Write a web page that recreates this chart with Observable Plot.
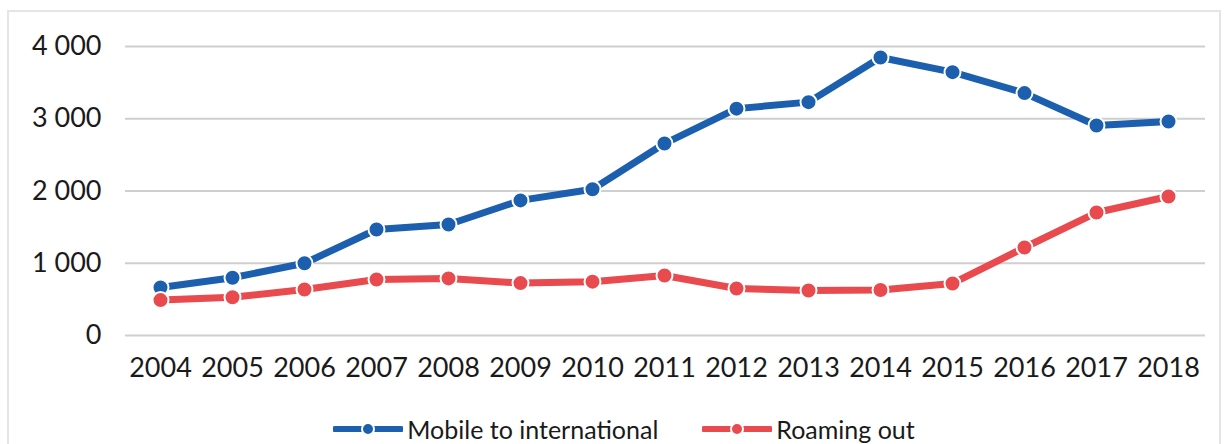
<!DOCTYPE html>
<html>
<head>
<meta charset="utf-8">
<script src="https://cdn.jsdelivr.net/npm/d3@7"></script>
<script src="https://cdn.jsdelivr.net/npm/@observablehq/plot@0.6"></script>
<style>
  html, body { margin: 0; padding: 0; background: #fff; }
  body { width: 1228px; height: 444px; position: relative; overflow: hidden; font-family: Lato, "Open Sans", sans-serif; }
  #frame { position: absolute; left: 7px; top: 10px; width: 1214px; height: 450px; border: 2px solid #e4e6e6; box-sizing: border-box; }
  #chart { position: absolute; left: 0; top: 0; }
  #legend { position: absolute; left: 0; top: 414px; width: 1228px; display: flex; justify-content: center; gap: 44px; font-size: 25px; color: #1a1a1a; padding-left: 20px; box-sizing: border-box; }
  .item { display: flex; align-items: center; gap: 4px; }
</style>
</head>
<body>
<div id="frame"></div>
<div id="chart"></div>
<div id="legend"></div>
<script>
const years = [2004, 2005, 2006, 2007, 2008, 2009, 2010, 2011, 2012, 2013, 2014, 2015, 2016, 2017, 2018];
const mobileToInternational = [665, 800, 1000, 1467, 1536, 1870, 2025, 2657, 3140, 3230, 3848, 3645, 3355, 2906, 2962];
const roamingOut = [490, 530, 637, 775, 790, 725, 745, 830, 650, 623, 630, 720, 1218, 1702, 1924];
const seriesNames = ["Mobile to international", "Roaming out"];
const seriesColors = ["#1b5fae", "#e84a4d"];
const yTicks = [0, 1000, 2000, 3000, 4000];

const data = [];
years.forEach((y, i) => {
  data.push({year: y, value: mobileToInternational[i], series: seriesNames[0]});
  data.push({year: y, value: roamingOut[i], series: seriesNames[1]});
});

const fmt = d => d3.format(",")(d).replace(/,/g, " ");

const plot = Plot.plot({
  width: 1228,
  height: 395,
  marginTop: 46,
  marginBottom: 60,
  marginLeft: 125,
  marginRight: 23,
  style: {fontFamily: "Lato, 'Open Sans', sans-serif", fontSize: "27px", color: "#1a1a1a", background: "transparent"},
  x: {domain: [2004, 2018], insetLeft: 35, insetRight: 37, ticks: years, tickFormat: d => String(d), tickSize: 0, tickPadding: 24, label: null},
  y: {domain: [0, 4000], ticks: yTicks, tickFormat: fmt, tickSize: 0, tickPadding: 24, label: null},
  color: {domain: seriesNames, range: seriesColors},
  marks: [
    Plot.gridY(yTicks, {stroke: "#cfcfcf", strokeOpacity: 1, strokeWidth: 2}),
    Plot.axisY({ticks: yTicks, tickFormat: fmt, tickSize: 0, tickPadding: 24, fontSize: 27}),
    Plot.axisX({ticks: years, tickFormat: d => String(d), tickSize: 0, tickPadding: 22, fontSize: 27}),
    Plot.line(data, {x: "year", y: "value", z: "series", stroke: "series", strokeWidth: 7, strokeLinejoin: "round"}),
    Plot.dot(data, {x: "year", y: "value", fill: "series", r: 8, stroke: "white", strokeWidth: 2})
  ]
});
document.getElementById("chart").appendChild(plot);

const legend = document.getElementById("legend");
seriesNames.forEach((name, i) => {
  const c = seriesColors[i];
  const item = document.createElement("div");
  item.className = "item";
  item.innerHTML = `<svg width="70" height="16"><line x1="2" y1="8" x2="68" y2="8" stroke="${c}" stroke-width="6" stroke-linecap="round"/><circle cx="35" cy="8" r="6" fill="${c}" stroke="white" stroke-width="2"/></svg><span>${name}</span>`;
  legend.appendChild(item);
});
</script>
</body>
</html>
